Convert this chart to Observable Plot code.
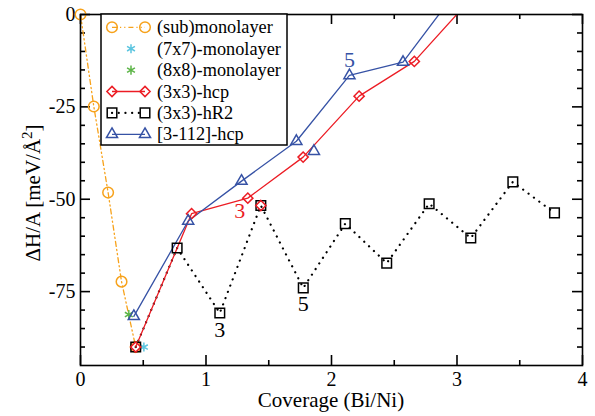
<!DOCTYPE html>
<html><head><meta charset="utf-8">
<script src="https://cdn.jsdelivr.net/npm/d3@7"></script>
<script src="https://cdn.jsdelivr.net/npm/@observablehq/plot@0.6"></script>
<style>body{margin:0;background:#fff}</style>
</head><body><div id="chart"></div>
<script>
// ---- data ----
const subX = [0, 0.106, 0.22, 0.327, 0.44];
const subY = [0, -24.9, -48.2, -72.3, -90];
const m7X = [0.505];
const m7Y = [-90];
const m8X = [0.385];
const m8Y = [-81.2];
const hcpX = [0.44, 0.885, 1.333, 1.774, 2.22, 2.66, 3.11];
const hcpY = [-90, -53.9, -49.7, -38.6, -22.1, -12.7, 4.2];
const hcpExtraX = [1.437];
const hcpExtraY = [-51.7];
const hr2X = [0.44, 0.77, 1.11, 1.437, 1.775, 2.11, 2.44, 2.778, 3.11, 3.445, 3.777];
const hr2Y = [-90, -63.2, -80.8, -51.7, -74, -56.6, -67.3, -51.2, -60.5, -45.3, -53.7];
const t112X = [0.425, 0.858, 1.283, 1.72, 2.143, 2.57, 3.0];
const t112Y = [-81.7, -55.9, -45.1, -34.3, -16.5, -12.9, 6.5];
const t112ExtraX = [1.86];
const t112ExtraY = [-37];

const seriesNames = ["(sub)monolayer", "(7x7)-monolayer", "(8x8)-monolayer", "(3x3)-hcp", "(3x3)-hR2", "[3-112]-hcp"];

const annX = [1.333, 1.11, 1.775, 2.143];
const annY = [-49.7, -80.8, -74, -16.5];
const annText = ["3", "3", "5", "5"];
const annSeries = ["(3x3)-hcp", "(3x3)-hR2", "(3x3)-hR2", "[3-112]-hcp"];

const xMajor = [0, 1, 2, 3, 4];
const xMinor = [0.5, 1.5, 2.5, 3.5];
const yMajor = [0, -25, -50, -75];
const yMinor = [-5, -10, -15, -20, -30, -35, -40, -45, -55, -60, -65, -70, -80, -85, -90];
const xTitle = "Coverage (Bi/Ni)";

// ---- layout ----
const W = 595, H = 416, ML = 80, MR = 13, MT = 14, MB = 51;
const xDom = [0, 4], yDom = [-95, 0];
const xPerPx = (xDom[1] - xDom[0]) / (W - ML - MR);
const yPerPx = (yDom[1] - yDom[0]) / (H - MT - MB);

// ---- styles ----
const style = {
  "(sub)monolayer": {color: "#f7a21b", symbol: "circle", r: 5.3, dash: "5,3,1.2,3,1.2,3", line: true},
  "(7x7)-monolayer": {color: "#5cc5e0", symbol: "asterisk", r: 4.3, line: false},
  "(8x8)-monolayer": {color: "#5db548", symbol: "asterisk", r: 4.3, line: false},
  "(3x3)-hcp": {color: "#ec1c24", symbol: "diamond2", r: 4.6, dash: null, line: true},
  "(3x3)-hR2": {color: "#000000", symbol: "square2", r: 6.1, dash: "0.1,6.6", line: true, cap: "round", lw: 2.2},
  "[3-112]-hcp": {color: "#3652a5", symbol: "triangle2", r: 5.3, dash: null, line: true}
};
const annOffsets = [[-8, 13], [0, 17], [0, 16], [0, -16]];

const rows = (xs, ys) => xs.map((x, i) => ({x, y: ys[i]}));
const sub = rows(subX, subY), m7 = rows(m7X, m7Y), m8 = rows(m8X, m8Y);
const hcp = rows(hcpX, hcpY), hcpE = rows(hcpExtraX, hcpExtraY);
const hr2 = rows(hr2X, hr2Y);
const t112 = rows(t112X, t112Y), t112E = rows(t112ExtraX, t112ExtraY);
const ann = annX.map((x, i) => ({x, y: annY[i], text: annText[i], s: annSeries[i]}));

const lineMark = (data, name, clip) => Plot.line(data, {x: "x", y: "y", stroke: style[name].color,
  strokeWidth: style[name].lw || 1.3, strokeDasharray: style[name].dash || undefined,
  strokeLinecap: style[name].cap || undefined, clip});
const dotMark = (data, name, clip) => Plot.dot(data, {x: "x", y: "y", symbol: () => style[name].symbol, r: style[name].r,
  stroke: style[name].color, fill: "none", strokeWidth: 1.5, clip});
// inward tick marks on all four sides
const tx = (vals, len, side) => Plot.ruleX(vals, {x: d => d,
  y1: side === "bottom" ? yDom[0] : yDom[1],
  y2: side === "bottom" ? yDom[0] + len * yPerPx : yDom[1] - len * yPerPx,
  stroke: "black", strokeWidth: 1.6});
const ty = (vals, len, side) => Plot.ruleY(vals, {y: d => d,
  x1: side === "left" ? xDom[0] : xDom[1],
  x2: side === "left" ? xDom[0] + len * xPerPx : xDom[1] - len * xPerPx,
  stroke: "black", strokeWidth: 1.6});

const plot = Plot.plot({
  width: W, height: H,
  marginLeft: ML, marginRight: MR, marginTop: MT, marginBottom: MB,
  style: {fontFamily: "'Liberation Serif', 'Times New Roman', serif", fontSize: "20px", background: "white", overflow: "visible"},
  x: {domain: xDom},
  y: {domain: yDom},
  marks: [
    tx(xMajor, 10, "bottom"), tx(xMinor, 5, "bottom"), tx(xMajor, 10, "top"), tx(xMinor, 5, "top"),
    ty(yMajor, 10, "left"), ty(yMinor, 5, "left"), ty(yMajor, 10, "right"), ty(yMinor, 5, "right"),
    Plot.axisX({ticks: xMajor, anchor: "bottom", tickSize: 0, tickPadding: 6, tickFormat: d => `${d}`, label: null, fontSize: 20}),
    Plot.axisY({ticks: yMajor, anchor: "left", tickSize: 0, tickPadding: 5, tickFormat: d => `${d}`, label: null, fontSize: 20}),
    lineMark(sub, "(sub)monolayer", false),
    lineMark(hr2, "(3x3)-hR2", true),
    lineMark(hcp, "(3x3)-hcp", true),
    lineMark(t112, "[3-112]-hcp", true),
    dotMark(sub, "(sub)monolayer", false),
    dotMark(m8, "(8x8)-monolayer", false),
    dotMark(m7, "(7x7)-monolayer", false),
    dotMark(hr2, "(3x3)-hR2", false),
    dotMark(hcp, "(3x3)-hcp", true),
    dotMark(hcpE, "(3x3)-hcp", false),
    dotMark(t112, "[3-112]-hcp", true),
    dotMark(t112E, "[3-112]-hcp", false),
    ...ann.map((a, i) => Plot.text([a], {x: "x", y: "y", text: "text", fill: style[a.s].color,
      dx: annOffsets[i][0], dy: annOffsets[i][1], fontSize: 22})),
    Plot.frame({strokeWidth: 1.6})
  ]
});
document.getElementById("chart").appendChild(plot);

// ---- titles & legend ----
const svg = d3.select(plot);
const ff = "'Liberation Serif', 'Times New Roman', serif";
svg.append("text").attr("x", 331).attr("y", 407).attr("text-anchor", "middle")
  .attr("font-family", ff).attr("font-size", 21).attr("fill", "black").text(xTitle);
const yt = svg.append("text").attr("transform", "translate(40,193) rotate(-90)").attr("text-anchor", "middle")
  .attr("font-family", ff).attr("font-size", 21).attr("fill", "black");
yt.append("tspan").text("ΔH/A [meV/Å");
yt.append("tspan").attr("dy", "-0.55em").attr("font-size", 15).text("2");
yt.append("tspan").attr("dy", "0.4em").text("]");

const lg = svg.append("g");
lg.append("rect").attr("x", 101).attr("y", 14).attr("width", 186).attr("height", 131)
  .attr("fill", "white").attr("stroke", "black").attr("stroke-width", 1.5);
const symMap = {circle: d3.symbolCircle, asterisk: d3.symbolAsterisk, diamond2: d3.symbolDiamond2, square2: d3.symbolSquare2, triangle2: d3.symbolTriangle2};
seriesNames.forEach((name, i) => {
  const s = style[name];
  const y = 27.3 + i * 21.4;
  const sym = d3.symbol(symMap[s.symbol], Math.PI * s.r * s.r)();
  if (s.line) {
    lg.append("line").attr("x1", 112).attr("x2", 145).attr("y1", y).attr("y2", y)
      .attr("stroke", s.color).attr("stroke-width", s.lw || 1.3)
      .attr("stroke-dasharray", s.dash || null).attr("stroke-linecap", s.cap || null);
    [112, 145].forEach(x => lg.append("path").attr("d", sym).attr("transform", `translate(${x},${y})`)
      .attr("fill", "none").attr("stroke", s.color).attr("stroke-width", 1.5));
  } else {
    lg.append("path").attr("d", sym).attr("transform", `translate(131,${y})`)
      .attr("fill", "none").attr("stroke", s.color).attr("stroke-width", 1.5);
  }
  lg.append("text").attr("x", 157).attr("y", y).attr("dy", "0.33em").attr("text-anchor", "start")
    .attr("font-family", ff).attr("font-size", 18.3).attr("fill", "black").text(name);
});
</script></body></html>
